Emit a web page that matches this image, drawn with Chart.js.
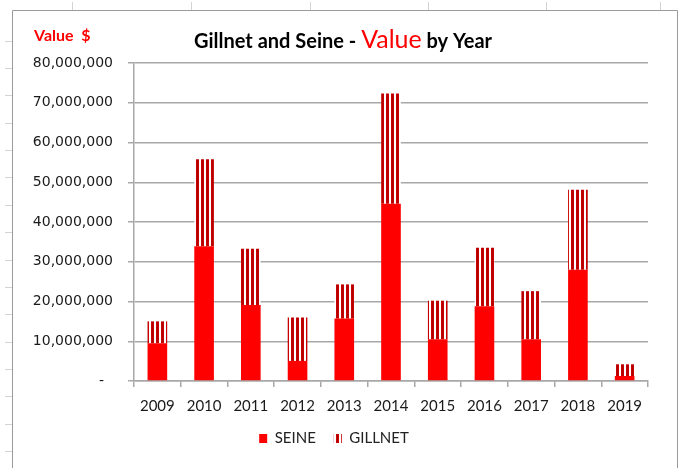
<!DOCTYPE html>
<html>
<head>
<meta charset="utf-8">
<script src="https://cdn.jsdelivr.net/npm/chart.js@4.4.1/dist/chart.umd.min.js"></script>
<style>
  html, body { margin: 0; padding: 0; background: #ffffff; }
  #wrap { width: 683px; height: 468px; position: relative; }
</style>
</head>
<body>
<div id="wrap"><canvas id="c" width="683" height="468"></canvas></div>
<script>
// ---- data ----
const years = ['2009','2010','2011','2012','2013','2014','2015','2016','2017','2018','2019'];
const seineValues   = [9500000, 33900000, 19100000, 5050000, 15700000, 44600000, 10500000, 18800000, 10500000, 28000000, 1260000];
const gillnetValues = [5500000, 21900000, 14200000, 10950000, 8600000, 27700000, 9700000, 14700000, 12100000, 20100000, 2940000];
const seriesNames = ['SEINE', 'GILLNET'];
const yTickMax = 80000000;
const yTickStep = 10000000;
const chartTitleParts = ['Gillnet and Seine - ', 'Value', ' by Year'];
const yAxisCaption = 'Value  $';

// ---- gillnet stripe pattern ----
function makeStripes() {
  const p = document.createElement('canvas');
  p.width = 5; p.height = 4;
  const g = p.getContext('2d');
  g.fillStyle = '#ffffff'; g.fillRect(0, 0, 5, 4);
  g.fillStyle = '#c80000'; g.fillRect(1, 0, 1, 4);
  g.fillStyle = '#b00000'; g.fillRect(2, 0, 1, 4);
  g.fillStyle = '#c80000'; g.fillRect(3, 0, 1, 4);
  return g.createPattern(p, 'repeat');
}

const ctx = document.getElementById('c').getContext('2d');
const stripes = makeStripes();

const framePlugin = {
  id: 'frame',
  beforeDraw(chart) {
    const c = chart.ctx;
    c.save();
    c.fillStyle = '#ffffff';
    c.fillRect(0, 0, chart.width, chart.height);
    // sheet marks outside the chart frame
    c.strokeStyle = '#d4d4d4';
    c.lineWidth = 1;
    [72, 191, 310, 428, 546, 660].forEach(x => {
      c.beginPath(); c.moveTo(x + 0.5, 2); c.lineTo(x + 0.5, 10); c.stroke();
    });
    for (let y = 40.7; y < chart.height; y += 27.35) {
      c.beginPath(); c.moveTo(5, Math.round(y) + 0.5); c.lineTo(12, Math.round(y) + 0.5); c.stroke();
    }
    // chart frame
    c.strokeStyle = '#9a9a9a';
    c.beginPath();
    c.moveTo(12.5, chart.height); c.lineTo(12.5, 10.5); c.lineTo(677.5, 10.5); c.lineTo(677.5, chart.height);
    c.stroke();
    c.restore();
  },
  afterDraw(chart) {
    const c = chart.ctx;
    c.save();
    c.textBaseline = 'alphabetic';
    c.textAlign = 'left';
    // axis caption
    c.fillStyle = '#ff0000';
    c.font = 'bold 16px Lato';
    c.fillText(yAxisCaption, 34, 41);
    // title with mixed styling
    let x = 194;
    const base = 48;
    c.fillStyle = '#000000';
    c.font = 'bold 20px Lato';
    c.fillText(chartTitleParts[0], x, base);
    x += c.measureText(chartTitleParts[0]).width;
    c.fillStyle = '#ff0000';
    c.font = '25px Lato';
    c.fillText(chartTitleParts[1], x, base);
    x += c.measureText(chartTitleParts[1]).width;
    c.fillStyle = '#000000';
    c.font = 'bold 20px Lato';
    c.fillText(chartTitleParts[2], x, base);
    c.restore();
  }
};

new Chart(ctx, {
  type: 'bar',
  data: {
    labels: years,
    datasets: [
      { label: seriesNames[0], data: seineValues, backgroundColor: '#ff0000', borderWidth: 0 },
      { label: seriesNames[1], data: gillnetValues, backgroundColor: stripes, borderWidth: 0 }
    ]
  },
  options: {
    responsive: false,
    animation: false,
    devicePixelRatio: 1,
    layout: { padding: { top: 63, right: 35, left: 20, bottom: 12 } },
    datasets: { bar: { categoryPercentage: 1.0, barPercentage: 0.42 } },
    plugins: {
      legend: {
        position: 'bottom',
        labels: {
          boxWidth: 8, boxHeight: 9, padding: 18,
          color: '#222222',
          font: { family: 'Lato', size: 15 }
        }
      },
      title: { display: false },
      tooltip: { enabled: false }
    },
    scales: {
      x: {
        stacked: true,
        grid: { display: true, drawOnChartArea: false, drawTicks: true, tickLength: 6, color: '#a8a8a8', lineWidth: 1.5, offset: true },
        border: { display: true, color: '#a8a8a8', width: 1.5 },
        ticks: { color: '#1a1a1a', font: { family: 'Lato', size: 15 }, padding: 10, maxRotation: 0 },
        afterFit(s) { s.height = 32; }
      },
      y: {
        stacked: true,
        min: 0, max: yTickMax,
        grid: { color: '#a8a8a8', lineWidth: 1.5, tickLength: 6, drawTicks: true },
        border: { display: true, color: '#a8a8a8', width: 1.5 },
        ticks: {
          stepSize: yTickStep,
          padding: 15,
          color: '#1a1a1a',
          font: { family: 'DejaVu Sans', size: 14 },
          callback: v => v === 0 ? '-  ' : Number(v).toLocaleString('en-US')
        },
        afterFit(s) { s.width = 114; }
      }
    }
  },
  plugins: [framePlugin]
});
</script>
</body>
</html>
